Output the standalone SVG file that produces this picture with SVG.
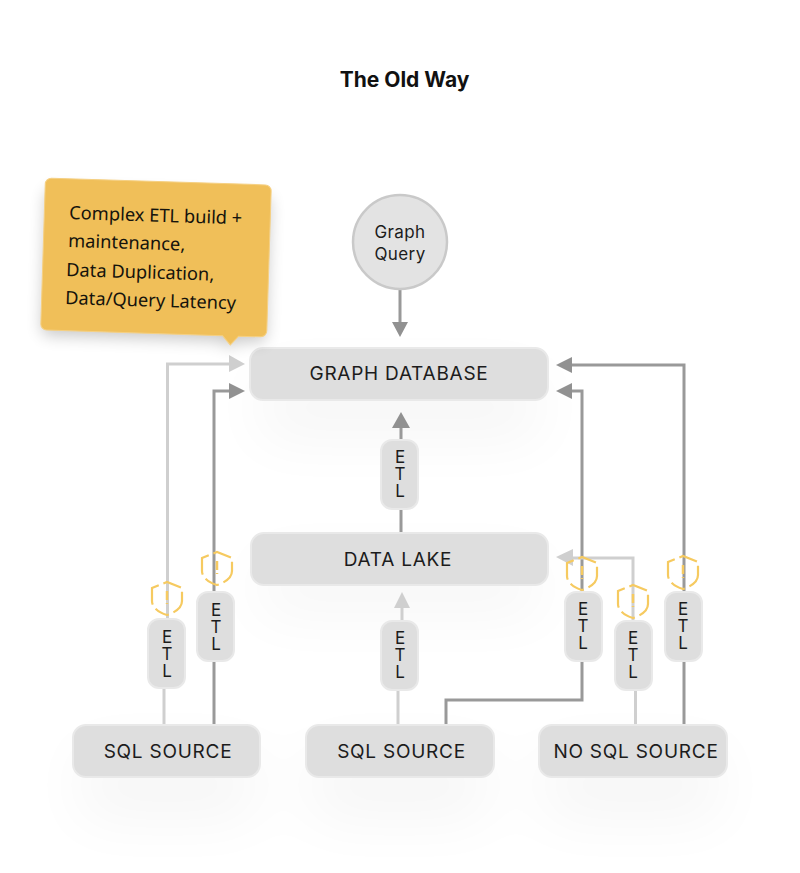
<svg xmlns="http://www.w3.org/2000/svg" width="800" height="873" viewBox="0 0 800 873">
<style>
text{font-family:"Inter","Liberation Sans",sans-serif;fill:#1c1c1c;text-anchor:middle}
.box{fill:#dedede;stroke:#e9e9e9;stroke-width:2}
.lbl{font-size:19px;letter-spacing:.75px}
.etl{font-size:17px}
.cn{fill:none;stroke-width:3}
.lt{stroke:#cfcfcf}
.dk{stroke:#999}
.hl{fill:#cfcfcf}
.hd{fill:#919191}
.sh{fill:none;stroke:#f6ca60;stroke-width:2.200;stroke-dasharray:15 5 24 5}
.ex{fill:none;stroke:#f6ca60;stroke-width:2.500;stroke-dasharray:9 3 2.500}
.call{font-family:"Noto Sans","Liberation Sans",sans-serif;font-size:18.300px;fill:#15130c;text-anchor:start}
</style>
<defs>
<filter id="soft" x="-60%" y="-200%" width="220%" height="500%"><feGaussianBlur stdDeviation="30"/></filter>
<filter id="cs" x="-20%" y="-20%" width="140%" height="140%"><feGaussianBlur stdDeviation="8"/></filter>
<path id="shield" d="M0-16 L15-10 V3 C15 10 7 15 0 17 C-7 15 -15 10 -15 3 V-10 Z"/>
</defs>
<rect width="800" height="873" fill="#fff"/>
<g id="shadows" fill="#000" opacity=".035" filter="url(#soft)">
<rect x="260" y="375" width="280" height="65"/>
<rect x="260" y="560" width="280" height="55"/>
<rect x="80" y="750" width="175" height="70"/>
<rect x="312" y="750" width="175" height="70"/>
<rect x="545" y="750" width="175" height="70"/>
</g>
<text x="404.500" y="87" style="font-size:21px;font-weight:700;fill:#111">The Old Way</text>
<g id="connectors">
<path class="cn dk" d="M400 290V325"/><path class="hd" d="M392 322H408L400 337Z"/>
<path class="cn lt" d="M164 724V660H167.500V364H232"/><path class="hl" d="M229 355L245 364L229 372Z"/>
<path class="cn dk" d="M214 724V391H232"/><path class="hd" d="M229 383L245 391L229 399Z"/>
<path class="cn dk" d="M401 532V425"/><path class="hd" d="M392 428L401 412L410 428Z"/>
<path class="cn lt" d="M398 724V660H402V605"/><path class="hl" d="M394 608L402 592L410 608Z"/>
<path class="cn dk" d="M446 724V700H582V391H570"/><path class="hd" d="M572 383L556 391L572 399Z"/>
<path class="cn lt" d="M635.500 724V660H633V558H570"/><path class="hl" d="M573 549L556 557L573 566Z"/>
<path class="cn dk" d="M684 724V365H570"/><path class="hd" d="M572 357L556 365L572 373Z"/>
</g>
<g id="graph-query"><circle cx="400" cy="242" r="47" fill="#e3e3e3" stroke="#c9c9c9" stroke-width="2.500"/>
<text x="400" y="238" style="font-size:17px;letter-spacing:.4px">Graph</text><text x="400" y="260" style="font-size:17px;letter-spacing:.4px">Query</text></g>
<g id="graph-database"><rect class="box" x="250" y="348" width="298" height="52" rx="13"/><text class="lbl" x="399" y="380">GRAPH DATABASE</text></g>
<g id="data-lake"><rect class="box" x="251" y="533" width="297" height="52" rx="13"/><text class="lbl" x="398" y="566">DATA LAKE</text></g>
<g id="sql-source-1"><rect class="box" x="73" y="725" width="187" height="52" rx="13"/><text class="lbl" x="168" y="758">SQL SOURCE</text></g>
<g id="sql-source-2"><rect class="box" x="306" y="725" width="188" height="52" rx="13"/><text class="lbl" x="401.500" y="758">SQL SOURCE</text></g>
<g id="no-sql-source"><rect class="box" x="539" y="725" width="188" height="52" rx="13"/><text class="lbl" x="636" y="758">NO SQL SOURCE</text></g>
<g id="etl-1"><rect class="box" x="148" y="619" width="37" height="69" rx="11"/><text class="etl"><tspan x="167" y="643">E</tspan><tspan x="167" y="660">T</tspan><tspan x="167" y="677">L</tspan></text></g>
<g id="etl-2"><rect class="box" x="197" y="592" width="37" height="69" rx="11"/><text class="etl"><tspan x="216" y="616">E</tspan><tspan x="216" y="633">T</tspan><tspan x="216" y="650">L</tspan></text></g>
<g id="etl-3"><rect class="box" x="381" y="440" width="37" height="69" rx="11"/><text class="etl"><tspan x="400" y="463">E</tspan><tspan x="400" y="480">T</tspan><tspan x="400" y="497">L</tspan></text></g>
<g id="etl-4"><rect class="box" x="381" y="621" width="37" height="69" rx="11"/><text class="etl"><tspan x="400" y="644">E</tspan><tspan x="400" y="661">T</tspan><tspan x="400" y="678">L</tspan></text></g>
<g id="etl-5"><rect class="box" x="565" y="592" width="37" height="69" rx="11"/><text class="etl"><tspan x="583" y="615">E</tspan><tspan x="583" y="632">T</tspan><tspan x="583" y="649">L</tspan></text></g>
<g id="etl-6"><rect class="box" x="615" y="621" width="37" height="69" rx="11"/><text class="etl"><tspan x="633" y="644">E</tspan><tspan x="633" y="661">T</tspan><tspan x="633" y="678">L</tspan></text></g>
<g id="etl-7"><rect class="box" x="665" y="592" width="37" height="69" rx="11"/><text class="etl"><tspan x="683" y="615">E</tspan><tspan x="683" y="632">T</tspan><tspan x="683" y="649">L</tspan></text></g>
<g id="warn-1" transform="translate(167 598)"><use href="#shield" class="sh"/><path class="ex" d="M0-7V6"/></g>
<g id="warn-2" transform="translate(217 568)"><use href="#shield" class="sh"/><path class="ex" d="M0-7V6"/></g>
<g id="warn-3" transform="translate(582 573)"><use href="#shield" class="sh"/><path class="ex" d="M0-7V6"/></g>
<g id="warn-4" transform="translate(633 601)"><use href="#shield" class="sh"/><path class="ex" d="M0-7V6"/></g>
<g id="warn-5" transform="translate(683 572)"><use href="#shield" class="sh"/><path class="ex" d="M0-7V6"/></g>
<g id="callout">
<g transform="translate(156 257.500) rotate(1.800)">
<path d="M-106-72H106a6 6 0 0 1 6 6V67a6 6 0 0 1-6 6H84L76 81L68 73H-106a6 6 0 0 1-6-6V-66a6 6 0 0 1 6-6Z" fill="#000" opacity=".22" filter="url(#cs)" transform="translate(0 8)"/>
<path d="M-107-76H107a6 6 0 0 1 6 6V70a6 6 0 0 1-6 6H85L77 85L69 76H-107a6 6 0 0 1-6-6V-70a6 6 0 0 1 6-6Z" fill="#f0bf59" stroke="#f5d083" stroke-width="1"/>
</g>
<text class="call" transform="translate(69 219) rotate(1.800)">Complex ETL build +</text>
<text class="call" transform="translate(68 247) rotate(1.800)">maintenance,</text>
<text class="call" transform="translate(66 276) rotate(1.800)">Data Duplication,</text>
<text class="call" transform="translate(65 304) rotate(1.800)">Data/Query Latency</text>
</g>
</svg>
